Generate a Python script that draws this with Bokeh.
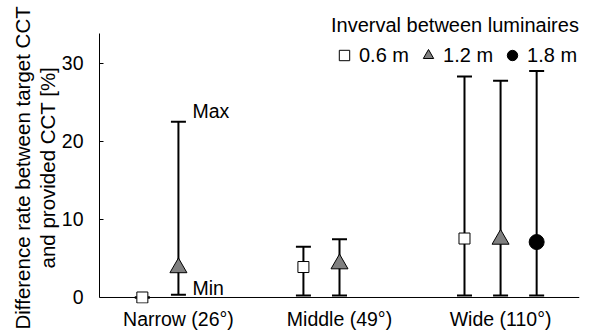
from bokeh.plotting import figure
from bokeh.models import (Range1d, FixedTicker, Whisker, ColumnDataSource, Legend,
                          LegendItem, TeeHead, Span, Title)
from bokeh.core.properties import value
from bokeh.embed import file_html
from bokeh.resources import INLINE

# ---- data ----
categories = ["Narrow (26°)", "Middle (49°)", "Wide (110°)"]
intervals = ["0.6 m", "1.2 m", "1.8 m"]

mean_06 = [0.0, 3.9, 7.55]
min_06 = [0.0, 0.25, 0.25]
max_06 = [0.0, 6.5, 28.3]

mean_12 = [3.8, 4.3, 7.45]
min_12 = [0.35, 0.25, 0.25]
max_12 = [22.5, 7.45, 27.75]

cats_18 = ["Wide (110°)"]
mean_18 = [7.1]
min_18 = [0.25]
max_18 = [29.0]

y_ticks = [0, 10, 20, 30]
y_axis_max = 33.8
annot_text = ["Max", "Min"]
y_label_lines = ["Difference rate between target CCT", "and provided CCT [%]"]
legend_title = "Inverval between luminaires"

FONT = "Liberation Sans"
FS = "19.5px"

# slot offsets of the three intervals inside a category group
offsets = {"0.6 m": -0.224, "1.2 m": 0.0, "1.8 m": 0.224}


def xs(cats, key):
    return [categories.index(c) + offsets[key] for c in cats]


src06 = ColumnDataSource(dict(x=xs(categories, "0.6 m"), y=mean_06, lo=min_06, hi=max_06))
src12 = ColumnDataSource(dict(x=xs(categories, "1.2 m"), y=mean_12, lo=min_12, hi=max_12))
src18 = ColumnDataSource(dict(x=xs(cats_18, "1.8 m"), y=mean_18, lo=min_18, hi=max_18))

p = figure(width=590, height=332, output_backend="svg", toolbar_location=None,
           x_range=Range1d(-0.49, 2.49), y_range=Range1d(-0.77, 37.26),
           min_border_left=99, min_border_right=11, min_border_top=6, min_border_bottom=29)
p.grid.visible = False
p.outline_line_color = None
p.background_fill_color = "white"

# x axis line at y = 0 (behind the markers)
p.add_layout(Span(location=0, dimension="width", line_color="black", line_width=1,
                  level="underlay"))

# whiskers (min-max)
for s in (src06, src12, src18):
    w = Whisker(source=s, base="x", lower="lo", upper="hi", line_width=2, line_color="black",
                lower_head=TeeHead(size=15, line_width=2, line_color="black"),
                upper_head=TeeHead(size=15, line_width=2, line_color="black"))
    p.add_layout(w)

r06 = p.scatter("x", "y", source=src06, marker="square", size=11,
                fill_color="white", line_color="black", line_width=1)
r12 = p.scatter("x", "y", source=src12, marker="triangle", size=17,
                fill_color="#808080", line_color="black", line_width=1)
r18 = p.scatter("x", "y", source=src18, marker="circle", size=15,
                fill_color="black", line_color="black", line_width=1)

# Max / Min annotation on the narrow 1.2 m bar
ann = ColumnDataSource(dict(x=[src12.data["x"][0]] * 2, y=[max_12[0], min_12[0]],
                            t=annot_text, yo=[-11, -7]))
p.text("x", "y", text="t", source=ann, x_offset=14, y_offset="yo",
       text_font=value(FONT), text_font_size=FS, text_baseline="middle",
       text_align="left", text_color="black")

# axes
xa = p.xaxis[0]
xa.ticker = FixedTicker(ticks=[0, 1, 2])
xa.major_label_overrides = {i: c for i, c in enumerate(categories)}
xa.major_tick_line_color = None
xa.major_tick_out = 0
xa.major_tick_in = 0
xa.minor_tick_line_color = None
xa.axis_line_color = None
xa.major_label_standoff = 4
xa.axis_label_standoff = 0
xa.major_label_text_font = FONT
xa.major_label_text_font_size = FS
xa.major_label_text_color = "black"

ya = p.yaxis[0]
ya.bounds = (0, y_axis_max)
ya.ticker = FixedTicker(ticks=y_ticks)
ya.major_tick_in = 4
ya.major_tick_out = 0
ya.minor_tick_line_color = None
ya.axis_line_color = "black"
ya.major_tick_line_color = "black"
ya.major_label_standoff = 16
ya.major_label_text_font = FONT
ya.major_label_text_font_size = FS
ya.major_label_text_color = "black"

# two-line y axis title (line 2 nearest to the axis); text starts near the bottom
title_offsets = {0: -26, 1: 35}
for i in reversed(range(len(y_label_lines))):
    t = Title(text=y_label_lines[i], align="left", offset=title_offsets[i], standoff=0,
              text_font=FONT, text_font_size="20.5px", text_font_style="normal",
              text_color="black")
    p.add_layout(t, "left")

legend = Legend(items=[LegendItem(label=intervals[0], renderers=[r06]),
                       LegendItem(label=intervals[1], renderers=[r12]),
                       LegendItem(label=intervals[2], renderers=[r18])],
                title=legend_title, orientation="horizontal",
                location=(232, 233))
legend.title_text_font = FONT
legend.title_text_font_size = "20px"
legend.title_text_font_style = "normal"
legend.title_text_color = "black"
legend.title_standoff = 3
legend.label_text_font = FONT
legend.label_text_font_size = "20px"
legend.label_text_color = "black"
legend.background_fill_alpha = 0
legend.border_line_alpha = 0
legend.padding = 0
legend.margin = 0
legend.spacing = 6
legend.label_standoff = 2
legend.glyph_width = 26
legend.glyph_height = 30
p.add_layout(legend)

open("out.html", "w").write(file_html(p, INLINE))
